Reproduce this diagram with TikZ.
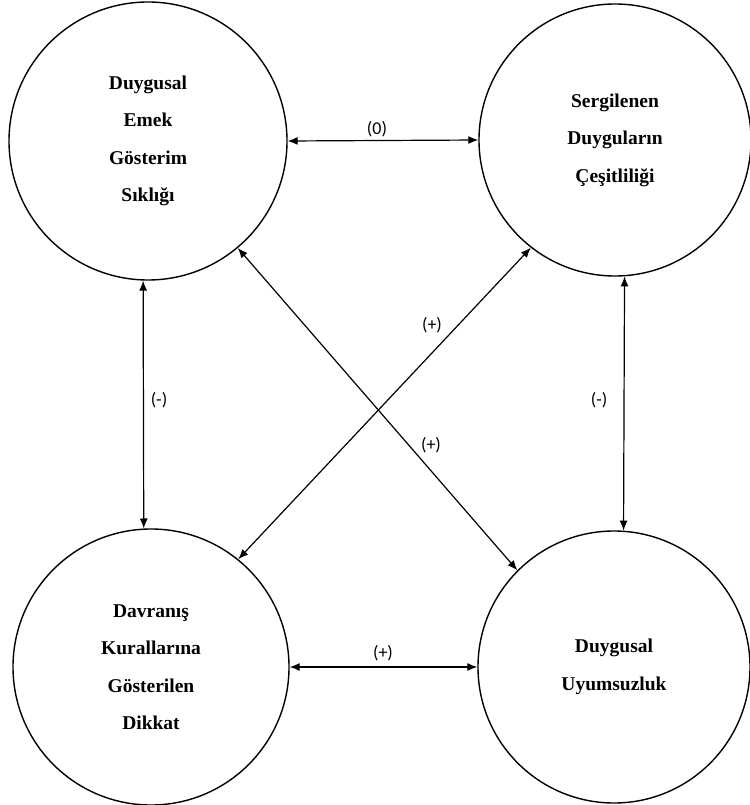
\documentclass[tikz,border=0pt]{standalone}
\usepackage{fontspec}
\setmainfont{Liberation Serif}
\newfontfamily\lblfont{Carlito}
\usetikzlibrary{arrows.meta}
\tikzset{
  circ/.style={draw, circle, line width=1.4pt, inner sep=0pt, align=center,
    font=\bfseries\fontsize{19.5}{37.5}\selectfont},
  conn/.style={line width=1.2pt, {Latex[length=10pt,width=8pt]}-{Latex[length=10pt,width=8pt]}},
  lbl/.style={font=\lblfont\fontsize{18}{20}\selectfont, inner sep=1pt}
}
\begin{document}
\begin{tikzpicture}[x=1pt,y=-1pt]
\useasboundingbox (0,0) rectangle (749,805);
\node[circ, minimum size=278pt] (tl) at (148,141) {Duygusal\\Emek\\Gösterim\\Sıklığı};
\node[circ, minimum size=272pt] (tr) at (615,140) {Sergilenen\\Duyguların\\Çeşitliliği};
\node[circ, minimum size=276pt] (bl) at (151,667) {Davranış\\Kurallarına\\Gösterilen\\Dikkat};
\node[circ, minimum size=272pt] (br) at (614,667) {Duygusal\\Uyumsuzluk};
\draw[conn] (tl.east) -- (tr.west);
\draw[conn] (bl.east) -- (br.west);
\draw[conn] (tl.-92) -- (bl.93);
\draw[conn] (tr.-86.6) -- (br.86.2);
\draw[conn] (tl.-50.2) -- (br.135.9);
\draw[conn] (bl.51.7) -- (tr.232.5);
\node[lbl] (l0) at (377,129) {(0)};
\node[lbl] (l1) at (383,653) {(+)};
\node[lbl] (l2) at (159,400) {(-)};
\node[lbl] (l3) at (599,400) {(-)};
\node[lbl] (l4) at (432,325) {(+)};
\node[lbl] (l5) at (431,445) {(+)};
\end{tikzpicture}
\end{document}
